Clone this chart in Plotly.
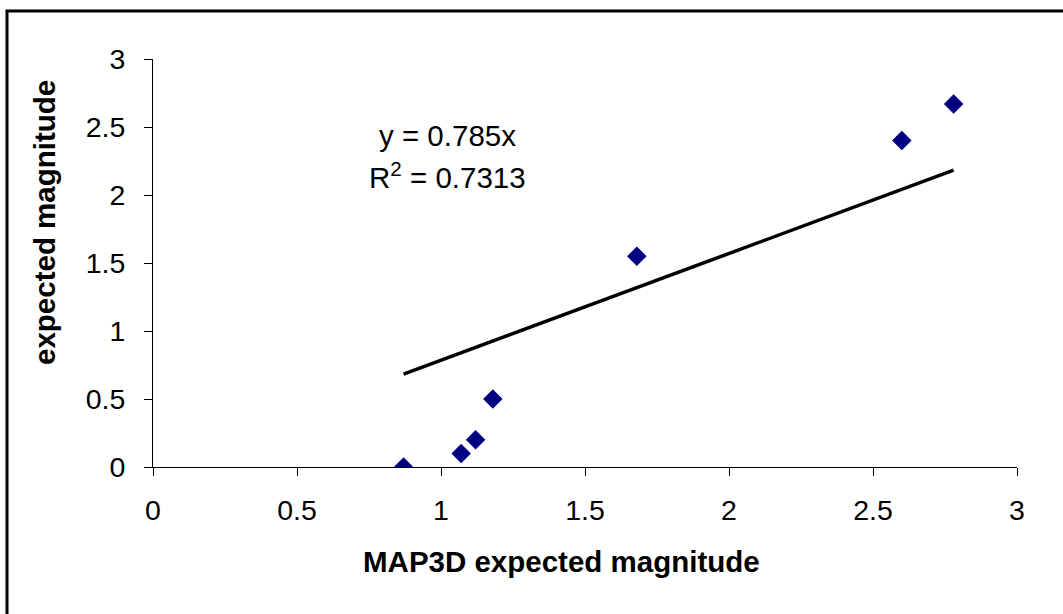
import plotly.graph_objects as go

# Data
map3d_expected = [0.87, 1.07, 1.12, 1.18, 1.68, 2.60, 2.78]
expected = [0.0, 0.1, 0.2, 0.5, 1.55, 2.40, 2.67]
slope = 0.785
r_squared = 0.7313
x_ticks = [0, 0.5, 1, 1.5, 2, 2.5, 3]
y_ticks = [0, 0.5, 1, 1.5, 2, 2.5, 3]

FONT = "Liberation Sans, Arial, sans-serif"

trend_x = [min(map3d_expected), max(map3d_expected)]
trend_y = [slope * v for v in trend_x]

fig = go.Figure()
fig.add_trace(go.Scatter(
    x=trend_x, y=trend_y, mode="lines",
    line=dict(color="black", width=3.5), showlegend=False, hoverinfo="skip"))
fig.add_trace(go.Scatter(
    x=map3d_expected, y=expected, mode="markers",
    marker=dict(symbol="diamond", size=15, color="#000080",
                line=dict(width=0)),
    showlegend=False))

fig.update_layout(
    width=1063, height=614,
    margin=dict(l=153, r=46, t=59, b=147),
    paper_bgcolor="white", plot_bgcolor="white",
    font=dict(family=FONT, size=28, color="black"),
    xaxis=dict(range=[0, 3], tickvals=x_ticks, ticktext=[f"{v:g}" for v in x_ticks],
               showgrid=False, zeroline=False, showline=True, linecolor="black",
               linewidth=1, ticks="outside", ticklen=8, tickcolor="black",
               tickfont=dict(size=28.5), ticklabelstandoff=10),
    yaxis=dict(range=[0, 3], tickvals=y_ticks, ticktext=[f"{v:g}" for v in y_ticks],
               showgrid=False, zeroline=False, showline=True, linecolor="black",
               linewidth=1, ticks="outside", ticklen=8, tickcolor="black",
               tickfont=dict(size=28.5), ticklabelstandoff=13),
    annotations=[
        dict(text="y = 0.785x", x=1.021, y=2.44, xref="x", yref="y",
             showarrow=False, xanchor="center", yanchor="middle",
             font=dict(size=29.5)),
        dict(text="R<sup>2</sup> = 0.7313", x=1.021, y=2.14, xref="x", yref="y",
             showarrow=False, xanchor="center", yanchor="middle",
             font=dict(size=29.5)),
        dict(text="<b>MAP3D expected magnitude</b>", x=(561 - 153) / 864,
             y=(467 - 561) / 408, xref="paper", yref="paper", showarrow=False,
             xanchor="center", yanchor="middle", font=dict(size=29.5)),
        dict(text="<b>expected magnitude</b>", x=(44 - 153) / 864,
             y=(467 - 223) / 408, xref="paper", yref="paper", showarrow=False,
             xanchor="center", yanchor="middle", textangle=-90,
             font=dict(size=29.5)),
    ],
    shapes=[dict(type="rect", xref="paper", yref="paper",
                 x0=(7 - 153) / 864, x1=(1075 - 153) / 864,
                 y0=(467 - 630) / 408, y1=(467 - 11) / 408,
                 line=dict(color="black", width=3), fillcolor="rgba(0,0,0,0)",
                 layer="below")],
)

fig.write_html("out.html")
